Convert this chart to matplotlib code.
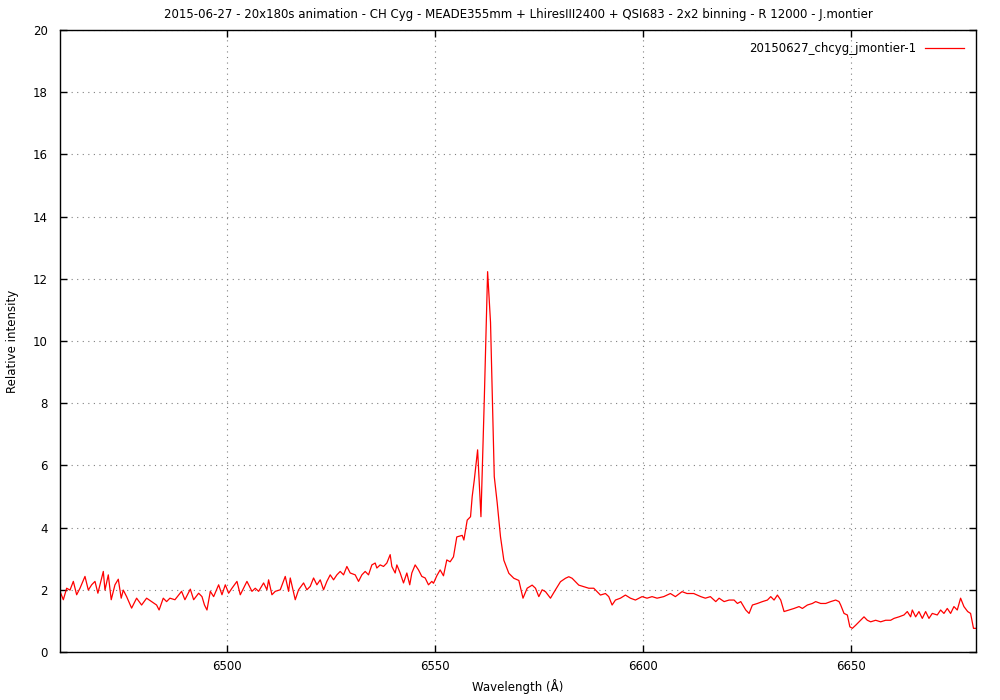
"""CH Cyg H-alpha spectrum, gnuplot-style plot"""
import matplotlib
matplotlib.use('Agg')
import matplotlib.pyplot as plt

# Spectrum (wavelength in Angstrom, relative intensity)
wavelength = [
    6460.0, 6460.8, 6461.6, 6462.4, 6463.2, 6464.0, 6464.8, 6466.0, 6466.8, 6467.6,
    6468.4, 6469.1, 6470.4, 6470.8, 6471.6, 6472.3, 6473.2, 6474.0, 6474.7, 6475.2,
    6476.0, 6477.2, 6478.4, 6479.6, 6480.8, 6482.0, 6483.2, 6483.8, 6484.8, 6485.6,
    6486.4, 6487.6, 6489.2, 6490.0, 6491.3, 6492.1, 6493.3, 6494.1, 6494.7, 6495.3,
    6496.1, 6496.9, 6498.1, 6498.9, 6499.7, 6500.5, 6501.3, 6502.5, 6503.3, 6504.9,
    6506.1, 6506.9, 6507.7, 6508.9, 6509.7, 6510.1, 6510.9, 6511.7, 6512.9, 6514.1,
    6514.9, 6515.3, 6516.5, 6517.3, 6518.5, 6519.3, 6520.1, 6520.9, 6521.7, 6522.5,
    6523.3, 6524.1, 6524.9, 6525.7, 6526.5, 6527.3, 6528.1, 6528.9, 6529.7, 6530.9,
    6531.7, 6532.5, 6533.3, 6534.1, 6534.9, 6535.7, 6536.1, 6536.9, 6537.7, 6538.5,
    6539.3, 6539.7, 6540.5, 6540.9, 6541.7, 6542.5, 6543.3, 6544.0, 6544.5, 6545.3,
    6546.1, 6546.9, 6547.7, 6548.5, 6549.3, 6549.7, 6550.5, 6551.3, 6552.1, 6552.9,
    6553.7, 6554.5, 6555.3, 6556.6, 6557.0, 6557.8, 6558.6, 6559.0, 6559.5, 6560.3,
    6561.1, 6561.9, 6562.7, 6563.4, 6564.3, 6565.0, 6565.8, 6566.6, 6567.8, 6569.0,
    6570.2, 6571.2, 6572.2, 6573.4, 6574.2, 6575.0, 6575.8, 6576.6, 6577.8, 6579.0,
    6580.2, 6581.4, 6582.2, 6583.0, 6583.8, 6584.6, 6585.8, 6587.0, 6588.2, 6589.0,
    6589.8, 6591.0, 6591.8, 6592.6, 6593.4, 6594.6, 6595.8, 6597.0, 6598.2, 6599.8,
    6601.0, 6602.2, 6603.4, 6605.0, 6606.6, 6607.8, 6609.4, 6610.6, 6612.2, 6613.9,
    6615.0, 6616.2, 6617.5, 6618.3, 6619.5, 6620.7, 6621.9, 6622.7, 6623.5, 6624.7,
    6625.5, 6626.3, 6627.5, 6628.7, 6629.9, 6630.7, 6631.5, 6632.3, 6633.1, 6633.9,
    6635.1, 6636.3, 6637.5, 6638.3, 6639.5, 6640.7, 6641.5, 6642.7, 6643.9, 6645.1,
    6646.3, 6647.1, 6647.5, 6648.3, 6649.1, 6649.7, 6650.3, 6651.1, 6651.9, 6653.1,
    6653.9, 6654.7, 6655.9, 6657.1, 6658.3, 6659.5, 6660.3, 6661.5, 6662.7, 6663.5,
    6664.3, 6664.7, 6665.5, 6666.3, 6667.1, 6667.9, 6668.7, 6669.5, 6670.7, 6671.5,
    6672.3, 6673.1, 6673.9, 6674.7, 6675.5, 6676.3, 6677.1, 6678.0, 6678.7, 6679.4,
    6680.0,
]
intensity = [
    1.95, 1.68, 2.05, 1.99, 2.27, 1.84, 2.05, 2.43, 1.99, 2.16,
    2.27, 1.89, 2.59, 1.99, 2.48, 1.68, 2.16, 2.34, 1.73, 1.99,
    1.78, 1.41, 1.73, 1.51, 1.73, 1.62, 1.51, 1.35, 1.73, 1.62,
    1.73, 1.68, 1.95, 1.68, 2.02, 1.68, 1.89, 1.78, 1.51, 1.35,
    1.95, 1.78, 2.16, 1.84, 2.16, 1.89, 2.05, 2.27, 1.84, 2.27,
    1.95, 2.05, 1.95, 2.22, 2.00, 2.32, 1.84, 1.95, 2.00, 2.43,
    1.95, 2.38, 1.68, 2.00, 2.22, 2.00, 2.11, 2.38, 2.16, 2.32,
    2.00, 2.27, 2.48, 2.32, 2.48, 2.59, 2.48, 2.75, 2.54, 2.48,
    2.27, 2.48, 2.59, 2.48, 2.80, 2.86, 2.70, 2.80, 2.75, 2.86,
    3.13, 2.75, 2.54, 2.80, 2.54, 2.22, 2.54, 2.16, 2.54, 2.80,
    2.64, 2.43, 2.38, 2.16, 2.27, 2.21, 2.45, 2.64, 2.45, 2.96,
    2.90, 3.06, 3.70, 3.75, 3.60, 4.24, 4.35, 5.00, 5.53, 6.50,
    4.35, 8.10, 12.23, 10.60, 5.64, 4.80, 3.70, 2.95, 2.53, 2.37,
    2.30, 1.73, 2.05, 2.15, 2.05, 1.78, 2.00, 1.94, 1.73, 2.00,
    2.26, 2.37, 2.42, 2.37, 2.26, 2.15, 2.10, 2.05, 2.05, 1.94,
    1.83, 1.88, 1.78, 1.51, 1.67, 1.73, 1.83, 1.73, 1.67, 1.78,
    1.73, 1.78, 1.73, 1.78, 1.88, 1.78, 1.94, 1.88, 1.88, 1.78,
    1.73, 1.78, 1.62, 1.73, 1.62, 1.67, 1.67, 1.56, 1.62, 1.35,
    1.24, 1.51, 1.56, 1.62, 1.67, 1.78, 1.67, 1.83, 1.67, 1.30,
    1.35, 1.40, 1.46, 1.40, 1.51, 1.56, 1.62, 1.56, 1.56, 1.62,
    1.67, 1.62, 1.51, 1.24, 1.19, 0.81, 0.76, 0.86, 0.97, 1.13,
    1.02, 0.97, 1.02, 0.97, 1.02, 1.02, 1.08, 1.13, 1.19, 1.30,
    1.13, 1.35, 1.13, 1.30, 1.08, 1.30, 1.08, 1.24, 1.19, 1.35,
    1.24, 1.40, 1.24, 1.46, 1.35, 1.73, 1.46, 1.30, 1.24, 0.76,
    0.76,
]

x_ticks = [6500, 6550, 6600, 6650]
y_ticks = list(range(0, 21, 2))

title = ('2015-06-27 - 20x180s animation - CH Cyg - MEADE355mm + LhiresIII2400 + '
         'QSI683 - 2x2 binning - R 12000 - J.montier')

plt.rcParams['font.family'] = 'DejaVu Sans'
plt.rcParams['font.size'] = 8.5

fig = plt.figure(figsize=(10, 7), dpi=100)
ax = fig.add_axes([0.06, 0.0686, 0.916, 0.8885])

ax.plot(wavelength, intensity, color='#ff0000', linewidth=0.9,
        label='20150627_chcyg_jmontier-1')

ax.set_xlim(6460, 6680)
ax.set_ylim(0, 20)
ax.set_xticks(x_ticks)
ax.set_yticks(y_ticks)

# gnuplot look: dotted grey grid, ticks inside on every side
ax.grid(True, linestyle=(0, (1, 4)), color='#808080', linewidth=0.8)
ax.tick_params(direction='in', top=True, right=True, length=5, width=1,
               colors='black', labelsize=8.5)
ax.tick_params(axis='x', pad=6)
ax.tick_params(axis='y', pad=9)
for spine in ax.spines.values():
    spine.set_linewidth(1)

ax.set_xlabel('Wavelength (Å)', labelpad=4)
ax.set_ylabel('Relative intensity', labelpad=10)
ax.set_title(title, fontsize=8.5, pad=9)

ax.legend(loc='upper right', frameon=False, markerfirst=False,
          handlelength=3.3, fontsize=8.5, borderaxespad=0.6)

fig.savefig('out.png', dpi=100)
